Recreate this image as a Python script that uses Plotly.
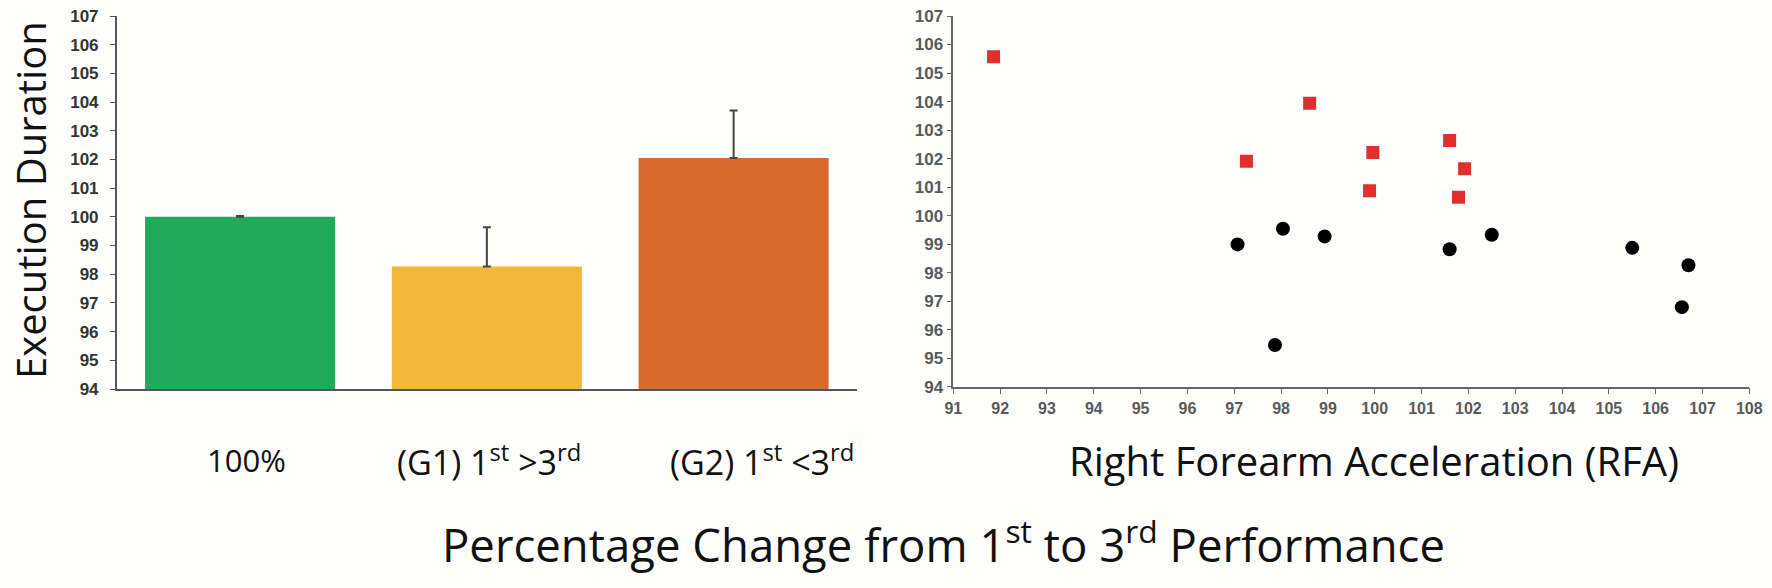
import plotly.graph_objects as go

# ---- data ----
categories = ["100%", "(G1) 1st>3rd", "(G2) 1st<3rd"]
category_labels = ["100%", "(G1) 1<sup>st</sup> &gt;3<sup>rd</sup>", "(G2) 1<sup>st</sup> &lt;3<sup>rd</sup>"]
bar_values = [100.0, 98.27, 102.05]
bar_errors = [0.03, 1.37, 1.66]
bar_colors = ["#22AA5B", "#F3B73A", "#D76B2E"]

g1_x = [97.07, 98.04, 98.93, 97.87, 101.60, 102.50, 105.50, 106.70, 106.56]
g1_y = [98.99, 99.54, 99.27, 95.46, 98.82, 99.33, 98.87, 98.26, 96.79]
g2_x = [91.86, 97.26, 98.61, 99.96, 99.89, 101.60, 101.92, 101.79]
g2_y = [105.57, 101.91, 103.94, 102.21, 100.87, 102.63, 101.64, 100.64]

y_ticks = list(range(94, 108))
x_ticks = list(range(91, 109))

# label styling (not data)
label_sizes = [31, 34, 34]
label_shifts = [6, 2, 28]

W, H = 1772, 588
TEXT_FONT = "'Open Sans', 'Noto Sans', sans-serif"
TICK_FONT_L = "'Liberation Sans Narrow', 'Arial Narrow', 'Liberation Sans', Arial, sans-serif"
TICK_FONT_R = "'Liberation Sans', Arial, sans-serif"

fig = go.Figure()

fig.add_trace(go.Bar(
    x=categories, y=bar_values,
    marker=dict(color=bar_colors, line=dict(width=0)),
    width=0.77,
    error_y=dict(type="data", array=bar_errors, arrayminus=[0, 0, 0], symmetric=False,
                 color="#444444", thickness=2, width=4),
    xaxis="x", yaxis="y", showlegend=False,
))

fig.add_trace(go.Scatter(
    x=g2_x, y=g2_y, mode="markers",
    marker=dict(symbol="square", size=13, color="#E0302E"),
    xaxis="x2", yaxis="y2", showlegend=False,
))
fig.add_trace(go.Scatter(
    x=g1_x, y=g1_y, mode="markers",
    marker=dict(symbol="circle", size=14, color="#000000"),
    xaxis="x2", yaxis="y2", showlegend=False,
))

def px_x(p):
    return p / W

def px_y(p):
    return (H - p) / H

fig.update_layout(
    template="none",
    width=W, height=H,
    margin=dict(l=0, r=0, t=0, b=0, autoexpand=False),
    paper_bgcolor="#FEFEFC", plot_bgcolor="#FEFEFC",
    xaxis=dict(type="category", categoryorder="array", categoryarray=categories,
               domain=[px_x(116.7), px_x(857)], range=[-0.5, 2.5], showticklabels=False,
               showline=True, linecolor="#555555", linewidth=2, ticks="", showgrid=False,
               zeroline=False, fixedrange=True, automargin=False),
    yaxis=dict(domain=[px_y(389), px_y(16)], range=[94, 107], tickvals=y_ticks,
               showline=True, linecolor="#555555", linewidth=1.5, ticks="outside",
               ticklen=5, tickcolor="#555555", showgrid=False, zeroline=False,
               tickfont=dict(family=TICK_FONT_L, size=17, color="#333333", weight="bold"),
               ticklabelstandoff=8, automargin=False),
    xaxis2=dict(domain=[px_x(953.3), px_x(1749.3)], range=[91, 108], tickvals=x_ticks,
                showline=True, linecolor="#666666", linewidth=1.5, ticks="outside",
                ticklen=6, tickcolor="#666666", showgrid=False, zeroline=False,
                tickfont=dict(family=TICK_FONT_R, size=16, color="#595959", weight="bold"),
                anchor="y2", automargin=False),
    yaxis2=dict(domain=[px_y(386.7), px_y(16)], range=[94, 107], tickvals=y_ticks,
                showline=True, linecolor="#666666", linewidth=1.5, ticks="outside",
                ticklen=5, tickcolor="#666666", showgrid=False, zeroline=False,
                tickfont=dict(family=TICK_FONT_R, size=17, color="#595959", weight="bold"),
                anchor="x2", automargin=False),
)

annotations = []
for i, (lab, s, sh) in enumerate(zip(category_labels, label_sizes, label_shifts)):
    annotations.append(dict(x=i, y=px_y(460), xref="x", yref="paper", text=lab,
                            xanchor="center", yanchor="middle", xshift=sh,
                            showarrow=False, font=dict(family=TEXT_FONT, size=s, color="#111111")))
annotations.append(dict(x=px_x(1374), y=px_y(460), xref="paper", yref="paper",
                        xanchor="center", yanchor="middle",
                        text="Right Forearm Acceleration (RFA)", showarrow=False,
                        font=dict(family=TEXT_FONT, size=40, color="#111111")))
annotations.append(dict(x=px_x(943), y=px_y(542), xref="paper", yref="paper",
                        xanchor="center", yanchor="middle",
                        text="Percentage Change from 1<sup>st</sup> to 3<sup>rd</sup> Performance",
                        showarrow=False, font=dict(family=TEXT_FONT, size=45.5, color="#111111")))
annotations.append(dict(x=px_x(30), y=px_y(200), xref="paper", yref="paper",
                        xanchor="center", yanchor="middle",
                        text="Execution Duration", textangle=-90, showarrow=False,
                        font=dict(family=TEXT_FONT, size=40, color="#111111")))
fig.update_layout(annotations=annotations)

fig.write_html(
    "out.html",
    config={"displayModeBar": False},
    post_script="document.body.style.margin='0';document.body.style.overflow='hidden';",
)
